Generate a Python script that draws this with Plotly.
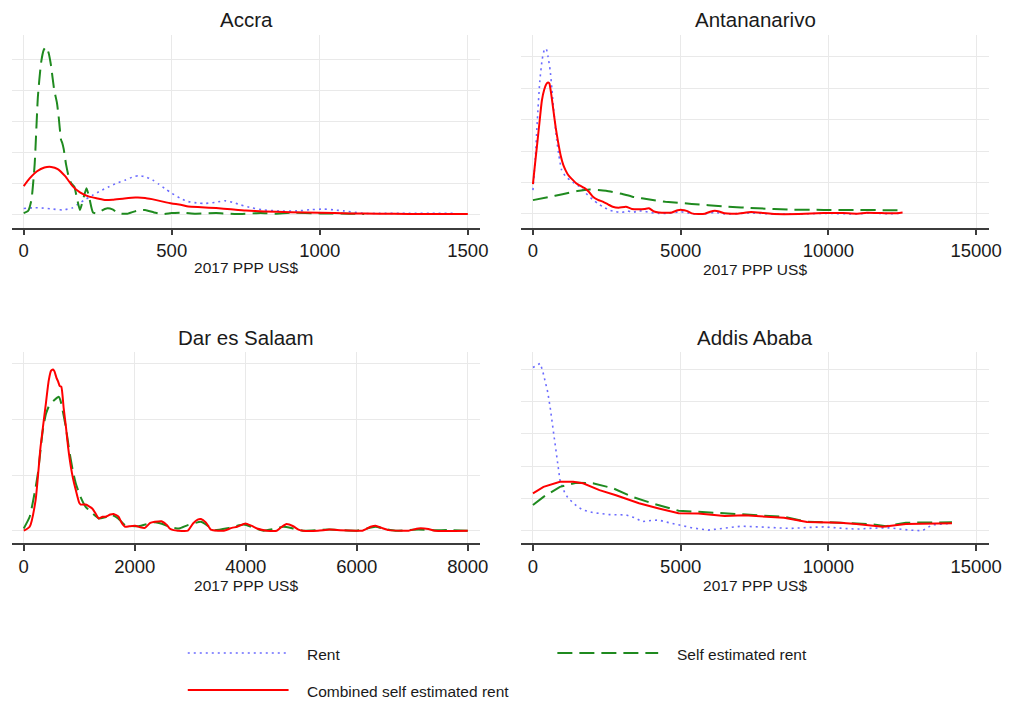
import plotly.graph_objects as go

# ---------------- data (density, arbitrary units = gridline steps) ----------------
accra_rent_x = [0, 30, 54, 90, 132, 165, 187, 210, 232, 260, 288, 315, 344, 370, 388, 411, 435, 455, 480, 500,
                530, 556, 590, 612, 650, 679, 705, 734, 770, 812, 860, 924, 970, 1013, 1050, 1080, 1147, 1200,
                1300, 1400, 1450]
accra_rent_y = [0.18, 0.2, 0.2, 0.17, 0.13, 0.2, 0.34, 0.48, 0.6, 0.75, 0.88, 1.0, 1.1, 1.2, 1.24, 1.2, 1.1, 0.97,
                0.8, 0.67, 0.5, 0.4, 0.35, 0.34, 0.38, 0.43, 0.38, 0.29, 0.2, 0.13, 0.1, 0.1, 0.14, 0.16, 0.13, 0.1,
                0.02, 0.02, 0.02, 0.02, 0.02]
accra_self_x = [0, 15, 26, 37, 48, 59, 68, 76, 84, 92, 103, 112, 118, 126, 130, 135, 143, 152, 160, 171, 180, 190,
                200, 212, 222, 234, 250, 265, 280, 300, 320, 350, 380, 410, 440, 470, 500, 540, 580, 650, 720, 800,
                850, 900, 1000, 1100, 1150]
accra_self_y = [0.03, 0.1, 0.45, 1.6, 3.8, 4.9, 5.3, 5.39, 5.2, 4.8, 4.0, 3.6, 3.15, 2.4, 2.3, 2.1, 1.6, 1.2, 1.0,
                0.88, 0.5, 0.13, 0.45, 0.83, 0.5, 0.05, 0.02, 0.12, 0.18, 0.15, 0.02, 0.01, 0.1, 0.13, 0.05, 0.0,
                0.03, 0.04, 0.01, 0.03, 0.0, 0.03, 0.01, 0.04, 0.02, 0.01, 0.0]
accra_comb_x = [0, 20, 45, 70, 93, 115, 140, 165, 190, 221, 250, 277, 300, 340, 377, 410, 433, 470, 500, 530, 556,
                600, 650, 700, 750, 812, 900, 1000, 1100, 1200, 1300, 1500]
accra_comb_y = [0.9, 1.15, 1.38, 1.5, 1.52, 1.45, 1.22, 0.9, 0.7, 0.56, 0.5, 0.45, 0.46, 0.5, 0.53, 0.52, 0.48, 0.4,
                0.34, 0.3, 0.24, 0.22, 0.19, 0.15, 0.11, 0.08, 0.06, 0.04, 0.02, 0.01, 0.0, 0.0]

tana_rent_x = [0, 80, 150, 230, 310, 380, 446, 510, 580, 640, 691, 750, 803, 880, 970, 1100, 1249, 1400, 1583, 1800,
               2029, 2200, 2364, 2600, 2810, 3000, 3200, 3367, 3600, 3800, 4000, 4260, 4600, 5000, 5374, 5800, 6154,
               6489, 7381, 8162, 9000, 9835, 10950, 11400, 12000, 12500]
tana_rent_y = [0.76, 1.8, 3.0, 4.2, 4.9, 5.2, 5.26, 5.0, 4.58, 4.0, 3.41, 2.85, 2.35, 1.85, 1.4, 1.2, 1.08, 0.98,
               0.87, 0.65, 0.45, 0.33, 0.23, 0.12, 0.07, 0.05, 0.1, 0.05, 0.1, 0.08, 0.04, 0.02, 0.02, 0.07, 0.01,
               0.0, 0.05, 0.0, 0.03, 0.0, 0.0, 0.02, 0.0, 0.03, 0.01, 0.02]
tana_self_x = [0, 500, 1000, 1500, 1918, 2476, 3000, 3367, 4000, 4483, 5374, 6489, 7604, 8719, 9835, 10950, 12000,
               12511]
tana_self_y = [0.44, 0.53, 0.63, 0.73, 0.78, 0.74, 0.64, 0.55, 0.45, 0.39, 0.32, 0.24, 0.18, 0.14, 0.13, 0.13, 0.12,
               0.12]
tana_comb_x = [0, 60, 134, 220, 301, 380, 468, 520, 557, 620, 691, 770, 858, 940, 1026, 1110, 1193, 1330, 1472, 1600,
               1750, 1900, 2029, 2200, 2364, 2550, 2699, 2900, 3145, 3350, 3590, 3780, 3925, 4100, 4260, 4500, 4706,
               4900, 5040, 5200, 5374, 5600, 5820, 6000, 6154, 6300, 6489, 6900, 7381, 7800, 8162, 9000, 9835, 10500,
               10950, 11300, 11800, 12200, 12511]
tana_comb_y = [0.95, 1.5, 2.14, 2.9, 3.6, 3.95, 4.15, 4.18, 4.15, 3.8, 3.3, 2.75, 2.25, 1.85, 1.56, 1.38, 1.24, 1.1,
               0.97, 0.9, 0.82, 0.7, 0.55, 0.45, 0.39, 0.3, 0.23, 0.2, 0.23, 0.16, 0.15, 0.16, 0.18, 0.08, 0.05,
               0.04, 0.05, 0.12, 0.13, 0.1, 0.02, 0.0, 0.01, 0.07, 0.1, 0.08, 0.02, 0.01, 0.06, 0.03, 0.0, 0.0,
               0.03, 0.03, 0.01, 0.04, 0.03, 0.02, 0.05]

dar_self_x = [0, 107, 200, 255, 344, 400, 463, 552, 629, 660, 700, 760, 819, 880, 938, 1027, 1116, 1250, 1353, 1460,
              1590, 1700, 1828, 2065, 2362, 2500, 2659, 2800, 2956, 3193, 3300, 3430, 3700, 3964, 4150, 4321, 4500,
              4677, 4855, 5033, 5500, 6000, 6339, 6500, 6695, 7111, 7400, 7645, 8000]
dar_self_y = [0.04, 0.25, 0.7, 1.03, 1.81, 2.1, 2.26, 2.35, 2.41, 2.35, 2.17, 1.85, 1.45, 1.1, 0.85, 0.6, 0.43, 0.3,
              0.22, 0.24, 0.28, 0.22, 0.1, 0.08, 0.15, 0.12, 0.06, 0.04, 0.1, 0.16, 0.1, 0.01, 0.05, 0.11, 0.05, 0.0,
              0.03, 0.07, 0.04, 0.0, 0.02, 0.0, 0.07, 0.03, 0.0, 0.02, 0.01, 0.01, 0.0]
dar_comb_x = [0, 107, 214, 303, 392, 450, 493, 530, 552, 590, 617, 650, 677, 720, 760, 800, 849, 890, 938, 1000, 1027,
              1116, 1234, 1300, 1353, 1420, 1472, 1560, 1620, 1709, 1760, 1828, 1900, 2006, 2100, 2184, 2280, 2362,
              2481, 2580, 2629, 2700, 2778, 2956, 3050, 3134, 3193, 3280, 3371, 3500, 3608, 3750, 3846, 3995, 4100,
              4202, 4380, 4558, 4650, 4736, 4855, 4950, 5033, 5300, 5508, 5700, 5983, 6101, 6250, 6339, 6450, 6576,
              6800, 6933, 7111, 7289, 7408, 8000]
dar_comb_y = [0.0, 0.07, 0.55, 1.51, 2.23, 2.7, 2.88, 2.9, 2.87, 2.75, 2.69, 2.6, 2.59, 2.2, 1.87, 1.5, 1.15, 0.93,
              0.73, 0.5, 0.47, 0.47, 0.4, 0.3, 0.22, 0.25, 0.25, 0.29, 0.3, 0.25, 0.15, 0.07, 0.08, 0.09, 0.06, 0.05,
              0.14, 0.16, 0.17, 0.1, 0.04, 0.01, 0.0, 0.0, 0.13, 0.2, 0.21, 0.15, 0.02, 0.0, 0.0, 0.05, 0.07, 0.13,
              0.09, 0.04, 0.0, 0.0, 0.07, 0.12, 0.08, 0.02, 0.0, 0.0, 0.02, 0.01, 0.0, 0.0, 0.07, 0.09, 0.05, 0.01,
              0.0, 0.0, 0.04, 0.03, 0.0, 0.0]

addis_rent_x = [0, 100, 245, 330, 413, 500, 580, 640, 691, 750, 803, 860, 914, 1000, 1082, 1200, 1360, 1500, 1695,
                2029, 2587, 3145, 3450, 3702, 4000, 4260, 4600, 4817, 5100, 5374, 5932, 6489, 7047, 7604, 8200, 8719,
                9300, 9835, 10400, 10950, 11500, 12065, 12734, 13180, 13514, 13900, 14183]
addis_rent_y = [5.06, 5.12, 5.19, 4.95, 4.67, 4.3, 3.84, 3.4, 3.02, 2.65, 2.29, 1.9, 1.57, 1.35, 1.16, 1.0, 0.85,
                0.75, 0.64, 0.56, 0.5, 0.49, 0.4, 0.28, 0.32, 0.33, 0.25, 0.2, 0.13, 0.09, 0.02, 0.07, 0.14, 0.12,
                0.09, 0.07, 0.1, 0.12, 0.08, 0.05, 0.08, 0.09, 0.02, 0.0, 0.18, 0.22, 0.23]
addis_self_x = [0, 357, 914, 1472, 2029, 2699, 3367, 4037, 4929, 5597, 6489, 7604, 8496, 9277, 10392, 11507, 11953,
                12623, 14183]
addis_self_y = [0.8, 1.05, 1.36, 1.49, 1.47, 1.32, 1.05, 0.85, 0.62, 0.59, 0.54, 0.48, 0.43, 0.28, 0.25, 0.2, 0.14,
                0.25, 0.26]
addis_comb_x = [0, 357, 914, 1360, 1695, 2252, 2810, 3590, 4260, 4929, 5597, 6489, 7158, 8496, 9277, 10392, 10950,
                11842, 12623, 13514, 14183]
addis_comb_y = [1.16, 1.36, 1.52, 1.52, 1.47, 1.26, 1.1, 0.85, 0.69, 0.54, 0.53, 0.46, 0.48, 0.4, 0.27, 0.25, 0.21,
                0.12, 0.21, 0.23, 0.23]

city_names = ["Accra", "Antananarivo", "Dar es Salaam", "Addis Ababa"]
series_names = ["Rent", "Self estimated rent", "Combined self estimated rent"]
x_tick_vals = [[0, 500, 1000, 1500], [0, 5000, 10000, 15000], [0, 2000, 4000, 6000, 8000], [0, 5000, 10000, 15000]]
x_title = "2017 PPP US$"

# ---------------- styling ----------------
W, H = 1022, 702
FONT = "Liberation Sans, Arial, Helvetica, sans-serif"
TXT = "#1a1a1a"
GRID = "#e9e9e9"
AXIS = "#3c3c3c"
C_RENT = "#6b6bff"
C_SELF = "#1f8a1f"
C_COMB = "#ff0000"

def px_x(p):
    return p / W

def px_y(p):
    return (H - p) / H

# panel geometry in pixels: (left, right, top, axisline)
panels = [
    dict(l=12, r=486, t=35, b=227.5, xr=[-40, 1542], yr=[-0.435, 5.774], ng=5),
    dict(l=527, r=1001, t=35, b=227.5, xr=[-411, 15445], yr=[-0.43, 5.69], ng=5),
    dict(l=12, r=486, t=351.7, b=543.3, xr=[-214, 8226], yr=[-0.227, 3.22], ng=3),
    dict(l=527, r=1001, t=351.7, b=543.3, xr=[-411, 15445], yr=[-0.39, 5.55], ng=5),
]

data = [
    (accra_rent_x, accra_rent_y, accra_self_x, accra_self_y, accra_comb_x, accra_comb_y),
    (tana_rent_x, tana_rent_y, tana_self_x, tana_self_y, tana_comb_x, tana_comb_y),
    (None, None, dar_self_x, dar_self_y, dar_comb_x, dar_comb_y),
    (addis_rent_x, addis_rent_y, addis_self_x, addis_self_y, addis_comb_x, addis_comb_y),
]

fig = go.Figure()
layout = dict(width=W, height=H, margin=dict(l=0, r=0, t=0, b=0), paper_bgcolor="white",
              plot_bgcolor="white", showlegend=False, font=dict(family=FONT, color=TXT))
annotations = []

for i, (pn, d) in enumerate(zip(panels, data)):
    k = "" if i == 0 else str(i + 1)
    xa, ya = "x" + k, "y" + k
    shape = "linear" if i == 3 else "spline"
    rx, ry, sx, sy, cx, cy = d
    if rx is not None:
        fig.add_trace(go.Scatter(x=rx, y=ry, xaxis=xa, yaxis=ya, mode="lines", name=series_names[0],
                                 line=dict(color=C_RENT, width=1.6, dash="2px,4px", shape=shape, smoothing=0.5)))
    fig.add_trace(go.Scatter(x=sx, y=sy, xaxis=xa, yaxis=ya, mode="lines", name=series_names[1],
                             line=dict(color=C_SELF, width=2, dash="15px,7px", shape=shape, smoothing=0.5)))
    fig.add_trace(go.Scatter(x=cx, y=cy, xaxis=xa, yaxis=ya, mode="lines", name=series_names[2],
                             line=dict(color=C_COMB, width=2, shape=shape, smoothing=0.5)))
    layout["xaxis" + k] = dict(
        domain=[px_x(pn["l"]), px_x(pn["r"])], range=pn["xr"], anchor=ya,
        tickvals=x_tick_vals[i], ticktext=[str(v) for v in x_tick_vals[i]],
        showgrid=True, gridcolor=GRID, gridwidth=1, zeroline=False,
        showline=True, linecolor=AXIS, linewidth=1.5, ticks="outside", ticklen=6, tickwidth=1.5,
        tickcolor=AXIS, tickfont=dict(size=18.5, color=TXT, family=FONT),
        title=dict(text=x_title, font=dict(size=15.5, color=TXT, family=FONT), standoff=2),
        fixedrange=True,
    )
    layout["yaxis" + k] = dict(
        domain=[px_y(pn["b"]), px_y(pn["t"])], range=pn["yr"], anchor=xa,
        tickvals=list(range(pn["ng"] + 1)), showticklabels=False, ticks="",
        showgrid=True, gridcolor=GRID, gridwidth=1, zeroline=False, showline=False, fixedrange=True,
    )
    annotations.append(dict(text=city_names[i], xref="paper", yref="paper",
                            x=px_x((pn["l"] + pn["r"]) / 2), y=px_y(20 if i < 2 else 337),
                            xanchor="center", yanchor="middle", showarrow=False,
                            font=dict(size=20.5, color=TXT, family=FONT)))

# legend (drawn as paper shapes + text)
legend_items = [
    (series_names[0], C_RENT, "2px,4px", 1.6, 190, 292, 653, 309),
    (series_names[1], C_SELF, "15px,7px", 2, 564, 666, 653, 683),
    (series_names[2], C_COMB, "solid", 2, 190, 292, 690, 309),
]
shapes = []
for name, col, dash, wd, x0, x1, yy, tx in legend_items:
    shapes.append(dict(type="line", xref="paper", yref="paper", x0=px_x(x0), x1=px_x(x1),
                       y0=px_y(yy), y1=px_y(yy), line=dict(color=col, width=wd, dash=dash)))
    annotations.append(dict(text=name, xref="paper", yref="paper", x=px_x(tx), y=px_y(yy + 1),
                            xanchor="left", yanchor="middle", showarrow=False,
                            font=dict(size=15.5, color=TXT, family=FONT)))

layout["annotations"] = annotations
layout["shapes"] = shapes
fig.update_layout(**layout)
fig.write_html("out.html")
